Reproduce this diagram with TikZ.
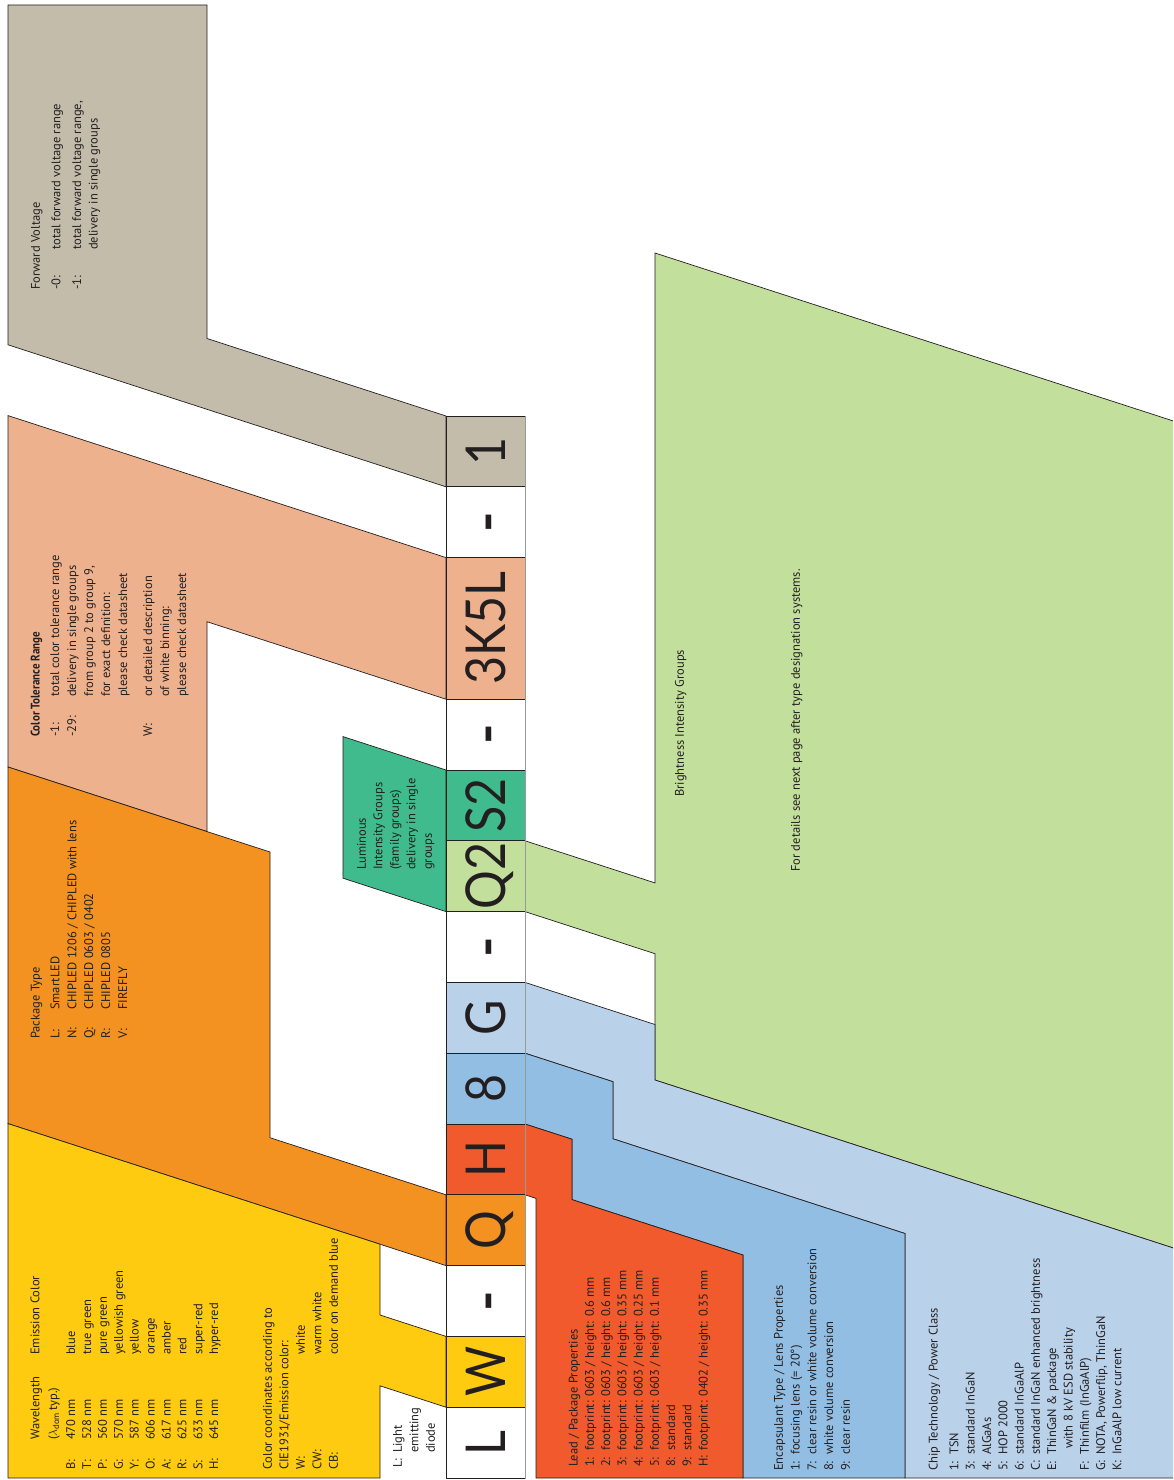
\documentclass[tikz,border=0pt]{standalone}
\usepackage{fontspec}
\setmainfont{PT Sans}
\newfontfamily\codefont{Lato}
\usepackage{graphicx}
\definecolor{cFV}{RGB}{196,188,170}
\definecolor{cCT}{RGB}{238,177,142}
\definecolor{cPT}{RGB}{243,146,33}
\definecolor{cEM}{RGB}{254,203,17}
\definecolor{cLI}{RGB}{64,187,142}
\definecolor{cBI}{RGB}{195,223,156}
\definecolor{cCH}{RGB}{186,209,234}
\definecolor{cEN}{RGB}{147,190,227}
\definecolor{cLD}{RGB}{241,90,44}
\definecolor{ink}{RGB}{35,31,32}
\newcommand\lbx[2]{\makebox[#1][l]{#2}}
\newcommand\cd[1]{\scalebox{0.88}[1]{#1}}
\tikzset{
  panel/.style={draw=ink, line width=0.7pt, line join=miter},
  cell/.style={draw=ink, line width=1pt, rotate=90, minimum width=70.8pt, minimum height=79pt,
    inner sep=0pt, text height=40pt, text depth=0pt, font=\codefont\fontsize{55}{60}\selectfont, text=ink},
  txt/.style={rotate=90, anchor=north west, align=left, inner sep=0pt, text=ink,
    font=\fontsize{12.5}{#1}\selectfont},
  txt/.default=16.5
}
\begin{document}
\begin{tikzpicture}[x=1pt,y=-1pt]
\useasboundingbox (0,0) rectangle (1173,1480);
\clip (0,0) rectangle (1173,1480);
\fill[white] (0,0) rectangle (1173,1480);

% ---------- panels ----------
\path[panel, fill=cFV] (8,5) -- (207,5) -- (207,338.5) -- (446,416) -- (446,486.8) -- (8,344.8) -- cycle;
\path[panel, fill=cCT] (8,415.6) -- (446,557.6) -- (446,699.2) -- (207,621.7) -- (207,831.5) -- (8,767) -- cycle;
\path[panel, fill=cPT] (8,767) -- (270,852) -- (270,1137.7) -- (446,1194.8) -- (446,1265.6) -- (8,1123.6) -- cycle;
\path[panel, fill=cEM] (8,1123.6) -- (380,1244.2) -- (380,1315) -- (446,1336.4) -- (446,1407.2) -- (380,1385.8) -- (380,1478) -- (8,1478) -- cycle;
\path[panel, fill=cLI] (343,736.6) -- (446,770) -- (446,911.6) -- (343,878.2) -- cycle;
\path[panel, fill=cBI] (655,253) -- (1190,426.4) -- (1190,1253.4) -- (655,1080) -- (655,953.7) -- (525,911.6) -- (525,840.8) -- (655,882.9) -- cycle;
\path[panel, fill=cCH] (525,982.4) -- (655,1024.5) -- (655,1080) -- (1190,1253.4) -- (1190,1478) -- (905,1478) -- (905,1233.5) -- (613,1138.8) -- (613,1081.7) -- (525,1053.2) -- cycle;
\path[panel, fill=cEN] (525,1053.2) -- (613,1081.7) -- (613,1138.8) -- (905,1233.5) -- (905,1478) -- (743,1478) -- (743,1255) -- (572,1199.6) -- (572,1139.2) -- (525,1124) -- cycle;
\path[panel, fill=cLD] (525,1124) -- (572,1139.2) -- (572,1199.6) -- (743,1255) -- (743,1478) -- (536,1478) -- (536,1198.4) -- (525,1194.8) -- cycle;

% ---------- code column ----------
\node[cell, fill=cFV] (c1) at (485.5,451.4) {\cd{1}};
\node[cell, fill=white] (d1) at (485.5,522.2) {\textbf{-}};
\node[cell, fill=cCT, minimum width=141.6pt] (c3) at (485.5,628.4) {\cd{3K5L}};
\node[cell, fill=white] (d2) at (485.5,734.6) {\textbf{-}};
\node[cell, fill=cLI] (cS) at (485.5,805.4) {\cd{S2}};
\node[cell, fill=cBI] (cQt) at (485.5,876.2) {\cd{Q2}};
\node[cell, fill=white] (d3) at (485.5,947) {\textbf{-}};
\node[cell, fill=cCH] (cG) at (485.5,1017.8) {\cd{G}};
\node[cell, fill=cEN] (c8) at (485.5,1088.6) {\cd{8}};
\node[cell, fill=cLD] (cH) at (485.5,1159.4) {\cd{H}};
\node[cell, fill=cPT] (cQ) at (485.5,1230.2) {\cd{Q}};
\node[cell, fill=white] (d4) at (485.5,1301) {\textbf{-}};
\node[cell, fill=cEM] (cW) at (485.5,1371.8) {\cd{W}};
\node[cell, fill=white] (cL) at (485.5,1442.6) {\cd{L}};
\draw[gray!80, line width=1.8pt] (c1.south east) -- (cL.south west);

% ---------- texts ----------
\node[txt=16.6] (tFV) at (28,290) {\strut Forward Voltage\\[4pt]
\lbx{40pt}{-0:}total forward voltage range\\[4pt]
\lbx{40pt}{-1:}total forward voltage range,\\
\lbx{40pt}{}delivery in single groups};

\node[txt=17] (tCT) at (27.5,737) {\strut\scalebox{0.88}[1]{\bfseries Color Tolerance Range}\\[2.5pt]
\lbx{40pt}{-1:}total color tolerance range\\
\lbx{40pt}{-29:}delivery in single groups\\
\lbx{40pt}{}from group 2 to group 9,\\
\lbx{40pt}{}for exact definition:\\
\lbx{40pt}{}please check datasheet\\[8pt]
\lbx{40pt}{W:}or detailed description\\
\lbx{40pt}{}of white binning:\\
\lbx{40pt}{}please check datasheet};

\node[txt=16.9] (tPT) at (27.5,1039) {\strut Package Type\\[3pt]
\lbx{29pt}{L:}SmartLED\\
\lbx{29pt}{N:}CHIPLED 1206 / CHIPLED with lens\\
\lbx{29pt}{Q:}CHIPLED 0603 / 0402\\
\lbx{29pt}{R:}CHIPLED 0805\\
\lbx{29pt}{V:}FIREFLY};

\node[txt=15.9] (tEM) at (28,1470) {\strut\lbx{30pt}{}\lbx{85pt}{Wavelength}Emission Color\\[2pt]
\lbx{30pt}{}(\(\lambda_{\mathrm{dom}}\)\,typ.)\\[2pt]
\lbx{30pt}{B:}\lbx{85pt}{470 nm}blue\\
\lbx{30pt}{T:}\lbx{85pt}{528 nm}true green\\
\lbx{30pt}{P:}\lbx{85pt}{560 nm}pure green\\
\lbx{30pt}{G:}\lbx{85pt}{570 nm}yellowish green\\
\lbx{30pt}{Y:}\lbx{85pt}{587 nm}yellow\\
\lbx{30pt}{O:}\lbx{85pt}{606 nm}orange\\
\lbx{30pt}{A:}\lbx{85pt}{617 nm}amber\\
\lbx{30pt}{R:}\lbx{85pt}{625 nm}red\\
\lbx{30pt}{S:}\lbx{85pt}{633 nm}super-red\\
\lbx{30pt}{H:}\lbx{85pt}{645 nm}hyper-red};

\node[txt=16.5] (tCC) at (260,1470) {\strut Color coordinates according to\\
CIE1931/Emission color:\\
\lbx{115pt}{W:}white\\
\lbx{115pt}{CW:}warm white\\
\lbx{115pt}{CB:}color on demand blue};

\node[txt=16.5] (tLD) at (390,1468) {\strut\lbx{15pt}{L:}Light\\
\lbx{15pt}{}emitting\\
\lbx{15pt}{}diode};

\node[txt=16.5] (tLI) at (354,870) {\strut Luminous\\
Intensity Groups\\
(family groups)\\
delivery in single\\
groups};

\node[txt=16.5] (tBI) at (672,797) {\strut Brightness Intensity Groups};
\node[txt=16.5] (tBD) at (788,872) {\strut For details see next page after type designation systems.};

\node[txt=16.25] (tLP) at (566,1467) {\strut Lead / Package Properties\\
\lbx{16pt}{1:}footprint: 0603 / height: 0.6 mm\\
\lbx{16pt}{2:}footprint: 0603 / height: 0.6 mm\\
\lbx{16pt}{3:}footprint: 0603 / height: 0.35 mm\\
\lbx{16pt}{4:}footprint: 0603 / height: 0.25 mm\\
\lbx{16pt}{5:}footprint: 0603 / height: 0.1 mm\\
\lbx{16pt}{8:}standard\\
\lbx{16pt}{9:}standard\\
\lbx{16pt}{H:}footprint: 0402 / height: 0.35 mm};

\node[txt=16.75] (tEN) at (771,1471) {\strut Encapsulant Type / Lens Properties\\
\lbx{16pt}{1:}focusing lens (= 20°)\\
\lbx{16pt}{7:}clear resin or white volume conversion\\
\lbx{16pt}{8:}white volume conversion\\
\lbx{16pt}{9:}clear resin};

\node[txt=16.3] (tCH) at (926,1471) {\strut Chip Technology / Power Class\\[4.5pt]
\lbx{16pt}{1:}TSN\\
\lbx{16pt}{3:}standard InGaN\\
\lbx{16pt}{4:}AlGaAs\\
\lbx{16pt}{5:}HOP 2000\\
\lbx{16pt}{6:}standard InGaAlP\\
\lbx{16pt}{C:}standard InGaN enhanced brightness\\
\lbx{16pt}{E:}ThinGaN \& package\\
\lbx{16pt}{}\hspace{6pt}with 8 kV ESD stability\\
\lbx{16pt}{F:}Thinfilm (InGaAlP)\\
\lbx{16pt}{G:}NOTA, Powerflip, ThinGaN\\
\lbx{16pt}{K:}InGaAlP low current};
\end{tikzpicture}
\end{document}
